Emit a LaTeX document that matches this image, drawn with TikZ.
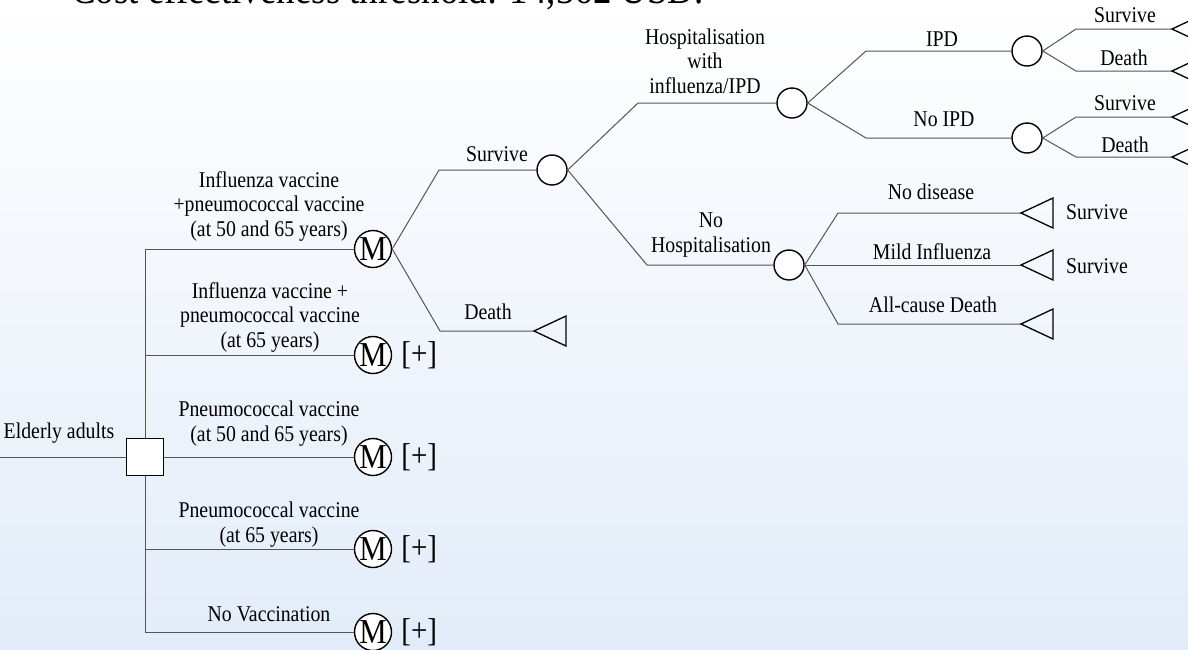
\documentclass[tikz,border=0pt]{standalone}
\usepackage{fontspec}
\setmainfont[FakeStretch=0.88]{Liberation Serif}
\usetikzlibrary{positioning}
\definecolor{bgblue}{RGB}{226,236,248}
\definecolor{linegray}{RGB}{85,85,85}
\newcommand\lblfont{\fontsize{22.5}{24.5}\selectfont}

\begin{document}
\begin{tikzpicture}[x=1pt,y=-1pt,
  branch/.style={linegray, line width=1pt},
  decision/.style={draw, fill=white, line width=1.5pt, minimum size=37pt, inner sep=0pt},
  chance/.style={circle, draw, fill=white, line width=1.4pt, minimum size=30pt, inner sep=0pt},
  markov/.style={circle, draw, fill=white, line width=1.4pt, minimum size=37pt, inner sep=0pt, font=\fontsize{35}{35}\selectfont},
  plus/.style={font=\fontsize{33}{33}\selectfont, inner sep=0pt},
  term/.style={draw, line width=1.3pt},
  lbl/.style={font=\lblfont, align=center, inner sep=0pt, anchor=south, execute at end node=\strut}]
%background
\useasboundingbox (0,0) rectangle (1188,649);
\clip (0,0) rectangle (1188,649);
\shade[top color=white, bottom color=bgblue] (0,0) rectangle (1188,649);
\node[anchor=base west, inner sep=0pt, font=\fontsize{42}{42}\selectfont] (title) at (71,3) {Cost effectiveness threshold: 14,362 USD.};

%strategies
\coordinate (root) at (0,457);
\node[decision] (d0) at (145,457) {};
\node[lbl] (elderly) at (59,446) {Elderly adults};
\draw[branch] (root) -- (d0);
\foreach \n/\y in {1/249,2/355,3/457,4/549,5/632}{
\node[markov] (m\n) at (373,\y) {M};
}
\foreach \n in {2,...,5}{
\node[plus, right=9pt of m\n] (p\n) {[+]};
}
\draw[branch] (d0 |- m1) -- (d0.north);
\draw[branch] (d0.south) -- (d0 |- m5);
\draw[branch] (d0) -- (m3);
\foreach \n in {1,2,4,5}{
\draw[branch] (d0 |- m\n) -- (m\n);
}
\node[lbl] (b1) at (269,244) {Influenza vaccine\\+pneumococcal vaccine\\(at 50 and 65 years)};
\node[lbl] (b2) at (270,355) {Influenza vaccine +\\pneumococcal vaccine\\(at 65 years)};
\node[lbl] (b3) at (269,449) {Pneumococcal vaccine\\(at 50 and 65 years)};
\node[lbl] (b4) at (269,550) {Pneumococcal vaccine\\(at 65 years)};
\node[lbl] (b5) at (269,629) {No Vaccination};

%markov states
\node[chance] (c1) at (552,170) {};
\coordinate (t0) at (534,331);
\draw[branch] (m1.east) -- (439,0 |- c1) -- (c1);
\draw[branch] (m1.east) -- (440,0 |- t0) -- (t0);
\node[lbl] (lsurv) at (497,169) {Survive};
\node[lbl] (ldeath) at (488,327) {Death};

%hospitalisation
\node[chance] (c2) at (792,103) {};
\node[chance] (c3) at (789,265) {};
\draw[branch] (c1.east) -- (638,0 |- c2) -- (c2);
\draw[branch] (c1.east) -- (647,0 |- c3) -- (c3);
\node[lbl] (lhosp) at (705,101) {Hospitalisation\\with\\influenza/IPD};
\node[lbl] (lnohosp) at (711,260) {No\\Hospitalisation};

%IPD
\node[chance] (c4) at (1027,51) {};
\node[chance] (c5) at (1027,138) {};
\draw[branch] (c2.east) -- (866,0 |- c4) -- (c4);
\draw[branch] (c2.east) -- (866,0 |- c5) -- (c5);
\node[lbl] (lipd) at (942,54) {IPD};
\node[lbl] (lnoipd) at (944,134) {No IPD};
\coordinate (t1) at (1172,29);
\coordinate (t2) at (1172,71);
\coordinate (t3) at (1172,117);
\coordinate (t4) at (1172,157);
\draw[branch] (c4.east) -- (1076,0 |- t1) -- (t1);
\draw[branch] (c4.east) -- (1076,0 |- t2) -- (t2);
\draw[branch] (c5.east) -- (1076,0 |- t3) -- (t3);
\draw[branch] (c5.east) -- (1076,0 |- t4) -- (t4);
\node[lbl] (ls1) at (1125,30) {Survive};
\node[lbl] (ld1) at (1124,73) {Death};
\node[lbl] (ls2) at (1125,118) {Survive};
\node[lbl] (ld2) at (1125,160) {Death};

%no hospitalisation
\coordinate (t5) at (1021,213);
\coordinate (t6) at (1021,265);
\coordinate (t7) at (1021,324);
\draw[branch] (c3.east) -- (838,0 |- t5) -- (t5);
\draw[branch] (c3) -- (t6);
\draw[branch] (c3.east) -- (838,0 |- t7) -- (t7);
\node[lbl] (lnodis) at (931,207) {No disease};
\node[lbl] (lmild) at (932,267) {Mild Influenza};
\node[lbl] (lall) at (933,320) {All-cause Death};
\node[font=\lblfont, anchor=west, inner sep=0pt] (ls5) at (1066,212) {Survive};
\node[font=\lblfont, anchor=west, inner sep=0pt] (ls6) at (1066,266) {Survive};

%terminal triangles
\foreach \t in {t0,t1,t2,t3,t4,t5,t6,t7}{
\draw[term] (\t) -- ++(32,-15) -- ++(0,30) -- cycle;
}
\end{tikzpicture}
\end{document}
